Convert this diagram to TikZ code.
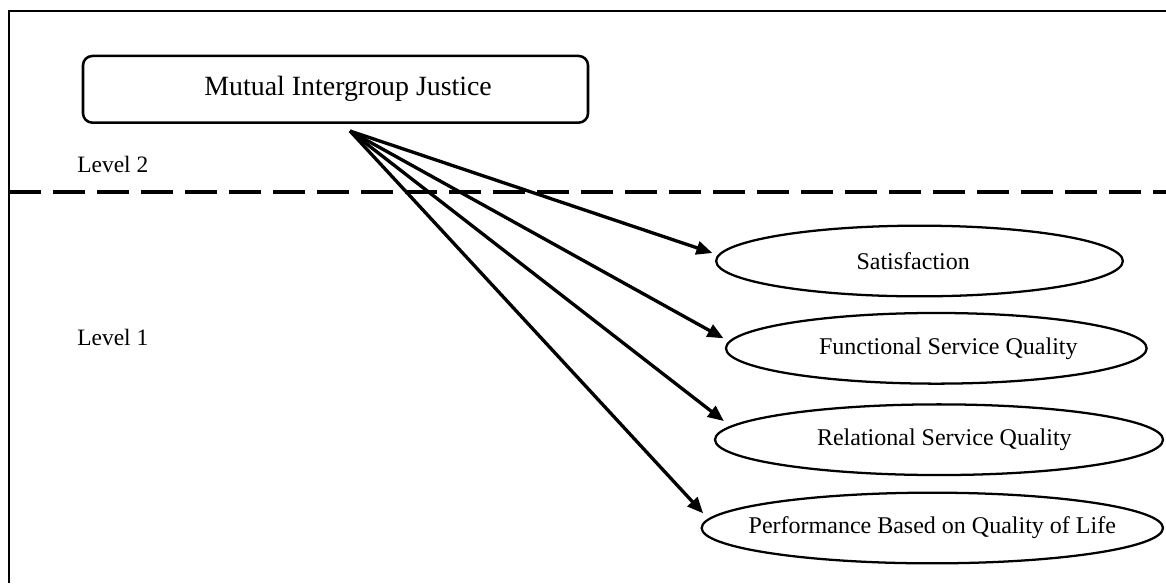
\documentclass[tikz,border=0pt]{standalone}
\usepackage{fontspec}
\setmainfont{Liberation Serif}
\usetikzlibrary{shapes.geometric, arrows.meta}

\begin{document}
\begin{tikzpicture}[%
  x = 0.75pt, y = -0.75pt,
  > = {Triangle[length = 12pt, width = 10pt]},
  box/.style = {draw, rounded corners = 7pt, line width = 1.9pt,
    minimum width = 378.75pt, minimum height = 50pt,
    font = \fontsize{20.9}{25}\selectfont},
  oval/.style = {ellipse, draw, line width = 1.7pt, inner sep = 0pt,
    minimum height = 53pt, font = \fontsize{18}{22}\selectfont},
  levelname/.style = {anchor = base west, inner sep = 0pt,
    font = \fontsize{17.6}{21}\selectfont},
  link/.style = {->, line width = 2.5pt}]
  \useasboundingbox (0, 0) rectangle (1166, 583);

  \draw[line width = 2.2pt] (9, 583) -- (9, 11) -- (1166, 11);
  \draw[line width = 2.8pt, dash pattern = on 24pt off 9pt] (9, 191.7) -- (1166, 191.7);

  \node[box] (mij) at (335.5, 89.3) {\hspace*{19pt}Mutual Intergroup Justice};
  \node[levelname] (lvltwo) at (77, 172) {Level 2};
  \node[levelname] (lvlone) at (77, 345) {Level 1};

  \node[oval, minimum width = 305pt] (sat)  at (919.5, 261)   {Satisfaction\hspace*{9.5pt}};
  \node[oval, minimum width = 315.5pt] (fun) at (936.3, 348.3) {\hspace*{18pt}Functional Service Quality};
  \node[oval, minimum width = 336pt] (rel)  at (939, 439.7)   {\hspace*{8pt}Relational Service Quality};
  \node[oval, minimum width = 346pt] (perf) at (932.3, 528)   {\makebox[0pt]{Performance Based on Quality of Life}};

  \coordinate (src) at (350, 131);
  \draw[link] (src) -- ([xshift = -2pt, yshift = 6pt]sat.west);
  \draw[link] (src) -- ([xshift = -1pt, yshift = 7.5pt]fun.west);
  \draw[link] (src) -- ([xshift = 7.5pt, yshift = 14pt]rel.west);
  \draw[link] (src) -- ([xshift = 2pt, yshift = 11pt]perf.west);
\end{tikzpicture}
\end{document}
